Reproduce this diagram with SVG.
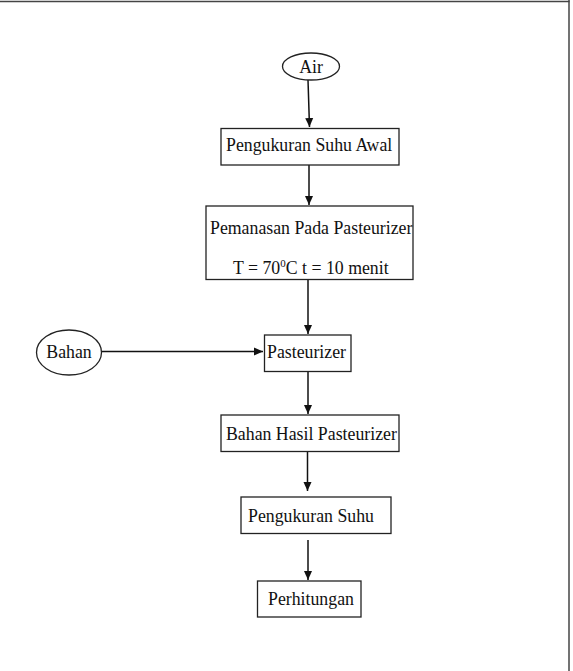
<svg xmlns="http://www.w3.org/2000/svg" width="573" height="671" viewBox="0 0 573 671">
<style>
.n{fill:#fff;stroke:#222;stroke-width:1.3}
.t{font-family:"Liberation Serif","Times New Roman",serif;font-size:17.8px;fill:#111}
.c{stroke:#111;stroke-width:1.5;fill:none}
</style>
<defs>
<marker id="ah" markerWidth="10" markerHeight="10" refX="9" refY="5" orient="auto" markerUnits="userSpaceOnUse">
<path d="M0,1 L9,5 L0,9 Z" fill="#111"/>
</marker>
</defs>
<rect width="573" height="671" fill="#fff"/>
<g id="frame">
<line x1="0" y1="1.5" x2="569.5" y2="1.5" stroke="#444" stroke-width="1.5"/>
<line x1="569" y1="0" x2="569" y2="671" stroke="#444" stroke-width="1.5"/>
</g>
<g id="connectors">
<line class="c" x1="308" y1="80" x2="309.5" y2="127" marker-end="url(#ah)"/>
<line class="c" x1="309" y1="165" x2="309" y2="205" marker-end="url(#ah)"/>
<line class="c" x1="308" y1="280" x2="308" y2="334" marker-end="url(#ah)"/>
<line class="c" x1="102" y1="351.5" x2="263" y2="351.5" marker-end="url(#ah)"/>
<line class="c" x1="308" y1="372" x2="308" y2="414" marker-end="url(#ah)"/>
<line class="c" x1="307.5" y1="452" x2="307.5" y2="491" marker-end="url(#ah)"/>
<line class="c" x1="308" y1="540" x2="308" y2="580" marker-end="url(#ah)"/>
</g>
<g id="air">
<ellipse class="n" cx="311" cy="66.5" rx="28.5" ry="13.5"/>
<text class="t" x="311" y="72.5" text-anchor="middle">Air</text>
</g>
<g id="pengukuran-suhu-awal">
<rect class="n" x="221" y="128.5" width="178" height="36.5"/>
<text class="t" x="226" y="151">Pengukuran Suhu Awal</text>
</g>
<g id="pemanasan">
<rect class="n" x="206" y="206" width="207" height="73.5"/>
<text class="t" x="210" y="234">Pemanasan Pada Pasteurizer</text>
<text class="t" x="233" y="274">T = 70<tspan font-size="11px" dy="-7">0</tspan><tspan dy="7">C t = 10 menit</tspan></text>
</g>
<g id="bahan">
<ellipse class="n" cx="69" cy="352.5" rx="32.5" ry="22.5"/>
<text class="t" x="69" y="358" text-anchor="middle">Bahan</text>
</g>
<g id="pasteurizer">
<rect class="n" x="264.5" y="335" width="86.5" height="36.5"/>
<text class="t" x="267" y="357.5">Pasteurizer</text>
</g>
<g id="bahan-hasil">
<rect class="n" x="221" y="415" width="178" height="36.5"/>
<text class="t" x="226" y="439.5">Bahan Hasil Pasteurizer</text>
</g>
<g id="pengukuran-suhu">
<rect class="n" x="241" y="497" width="150" height="36.5"/>
<text class="t" x="248" y="522">Pengukuran Suhu</text>
</g>
<g id="perhitungan">
<rect class="n" x="257.5" y="581" width="103.5" height="36"/>
<text class="t" x="268" y="605">Perhitungan</text>
</g>
</svg>
